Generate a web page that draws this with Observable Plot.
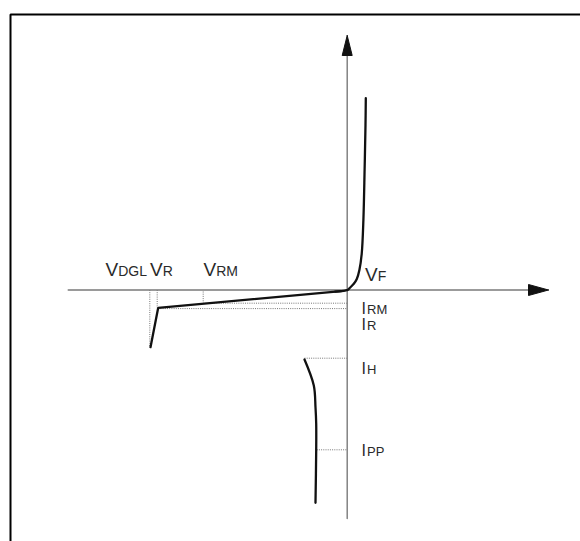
<!DOCTYPE html>
<html><head><meta charset="utf-8">
<script src="https://cdn.jsdelivr.net/npm/d3@7"></script>
<script src="https://cdn.jsdelivr.net/npm/@observablehq/plot@0.6"></script>
<style>html,body{margin:0;padding:0;background:#fff;overflow:hidden;} svg{display:block;}</style>
</head><body><div id="chart"></div>
<script>
// Schematic I–V characteristic (arbitrary units, origin at the axes crossing)
const reverseCurveV = [-196.7, -189, -6];
const reverseCurveI = [-57.2, -17.8, -1.2];
const forwardCurveV = [-12, -6, -2, 0.8, 3.3, 6.6, 9.6, 12.2, 14.5, 16.2, 17.4, 18.3, 18.6];
const forwardCurveI = [-1.7, -1.2, -0.6, 0.3, 2.8, 6.2, 11, 20, 36, 70, 120, 165, 191.8];
const holdCurveV = [-42.7, -33.4, -31.7, -31, -31, -31.7];
const holdCurveI = [-69.5, -95.5, -117.2, -133.8, -160.5, -212.8];
const axisH = [[-279, 0], [190, 0]];
const axisVt = [[0, -228.5], [0, 240]];
const arrowRight = [[201.3, 0], [181.3, 5.5], [181.3, -5.5], [201.3, 0]];
const arrowUp = [[0, 254.5], [5, 234.5], [-5, 234.5], [0, 254.5]];
const frame = [[-336.7, -251.5], [-336.7, 275.5], [233.3, 275.5]];
const refLines = [
  {x1: -197.4, y1: 0, x2: -197.4, y2: -56.5},   // VDGL
  {x1: -190,   y1: 0, x2: -190,   y2: -18},     // VR
  {x1: -144,   y1: -1.5, x2: -144, y2: -12.3},  // VRM
  {x1: -144,   y1: -13.2, x2: 0, y2: -13.2},    // IRM
  {x1: -189,   y1: -18.6, x2: 0, y2: -18.6},    // IR
  {x1: -42.7,  y1: -68.2, x2: 0, y2: -68.2},    // IH
  {x1: -30.5,  y1: -159.8, x2: 0, y2: -159.8}   // IPP
];
const vLabels = [
  {x: -241.7, y: 14.5, main: "V", sub: "DGL"},
  {x: -197.2, y: 14.5, main: "V", sub: "R"},
  {x: -143.7, y: 14.5, main: "V", sub: "RM"},
  {x: 17.8,   y: 9,    main: "V", sub: "F"}
];
const iLabels = [
  {x: 14.3, y: -23.5,  main: "I", sub: "RM"},
  {x: 14.3, y: -39.5,  main: "I", sub: "R"},
  {x: 14.3, y: -83.5,  main: "I", sub: "H"},
  {x: 14.3, y: -165.5, main: "I", sub: "PP"}
];

const reverseCurve = reverseCurveV.map((v, i) => ({v, i: reverseCurveI[i]}));
const forwardCurve = forwardCurveV.map((v, i) => ({v, i: forwardCurveI[i]}));
const holdCurve = holdCurveV.map((v, i) => ({v, i: holdCurveI[i]}));
const font = "'Liberation Sans', Arial, Helvetica, sans-serif";
const txt = "#2a2a2a";

const chart = Plot.plot({
  width: 580, height: 541,
  marginTop: 0, marginRight: 0, marginBottom: 0, marginLeft: 0,
  x: {domain: [-346.7, 233.3], axis: null},
  y: {domain: [-251.5, 289.5], axis: null},
  style: {fontFamily: font, background: "#fff"},
  marks: [
    Plot.line(frame, {x: d => d[0], y: d => d[1], stroke: "#000", strokeWidth: 2, strokeLinejoin: "miter", strokeLinecap: "square"}),
    Plot.link(refLines, {x1: "x1", y1: "y1", x2: "x2", y2: "y2", stroke: "#777", strokeWidth: 1, strokeDasharray: "1,1.2"}),
    Plot.line(axisH, {x: d => d[0], y: d => d[1], stroke: "#7a7a7a", strokeWidth: 1.4}),
    Plot.line(axisVt, {x: d => d[0], y: d => d[1], stroke: "#7a7a7a", strokeWidth: 1.4}),
    Plot.line(arrowRight, {x: d => d[0], y: d => d[1], fill: "#111", stroke: "#111", strokeWidth: 1}),
    Plot.line(arrowUp, {x: d => d[0], y: d => d[1], fill: "#111", stroke: "#111", strokeWidth: 1}),
    Plot.line(reverseCurve, {x: "v", y: "i", stroke: "#111", strokeWidth: 2.3, strokeLinejoin: "miter"}),
    Plot.line(forwardCurve, {x: "v", y: "i", curve: "catmull-rom", stroke: "#111", strokeWidth: 2.3}),
    Plot.line(holdCurve, {x: "v", y: "i", curve: "catmull-rom", stroke: "#111", strokeWidth: 2.3}),
    Plot.text(vLabels, {x: "x", y: "y", text: "main", textAnchor: "start", lineAnchor: "bottom", fontSize: 19, fill: txt}),
    Plot.text(vLabels, {x: "x", y: "y", text: "sub", textAnchor: "start", lineAnchor: "bottom", fontSize: 14, dx: 12.7, fill: txt}),
    Plot.text(iLabels, {x: "x", y: "y", text: "main", textAnchor: "start", lineAnchor: "bottom", fontSize: 16, fill: txt}),
    Plot.text(iLabels, {x: "x", y: "y", text: "sub", textAnchor: "start", lineAnchor: "bottom", fontSize: 13, dx: 5.6, fill: txt})
  ]
});
document.getElementById("chart").appendChild(chart);
</script></body></html>
